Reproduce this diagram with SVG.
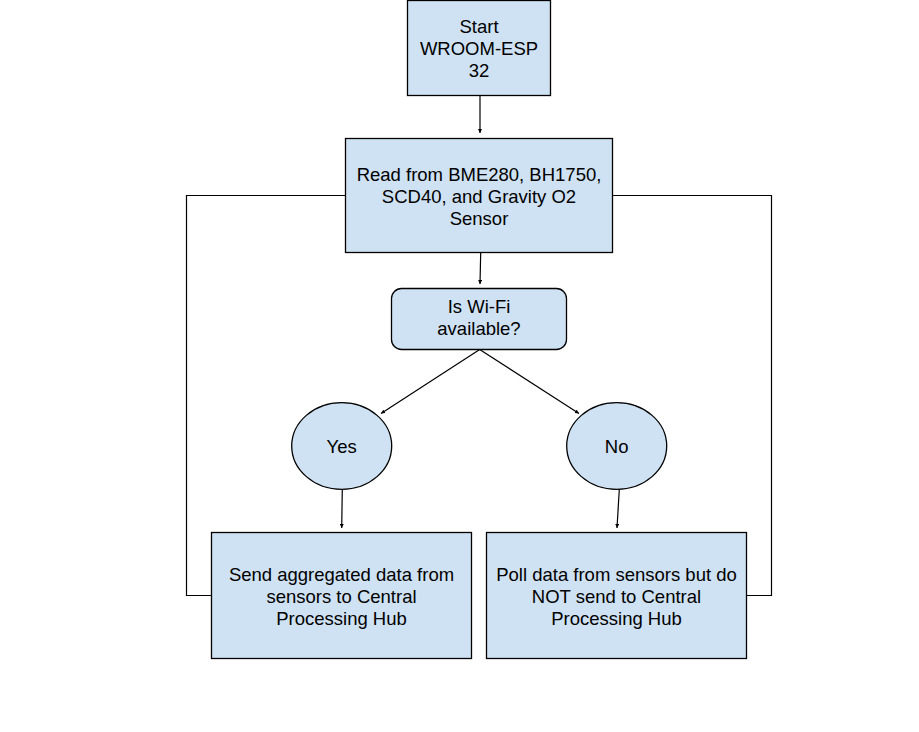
<svg xmlns="http://www.w3.org/2000/svg" width="919" height="732" viewBox="0 0 919 732">
<style>
.n{fill:#cfe2f3;stroke:#000;stroke-width:1.3}
.t{font-family:"Liberation Sans",Arial,sans-serif;font-size:18.5px;fill:#000;text-anchor:middle}
.c{fill:none;stroke:#000;stroke-width:1.2}
</style>
<defs>
<marker id="a" viewBox="0 0 10 10" refX="10" refY="5" markerWidth="4" markerHeight="4" orient="auto" markerUnits="userSpaceOnUse"><path d="M0,0 L10,5 L0,10 z" fill="#000"/></marker>
</defs>
<rect width="919" height="732" fill="#fff"/>
<g id="connectors">
<path class="c" d="M480,95.5 L480,133" marker-end="url(#a)"/>
<path class="c" d="M480.7,252.5 L480,284" marker-end="url(#a)"/>
<path class="c" d="M479.7,349.5 L381,413.5" marker-end="url(#a)"/>
<path class="c" d="M479.7,349.5 L579,413.5" marker-end="url(#a)"/>
<path class="c" d="M342.3,489.3 L341.7,528" marker-end="url(#a)"/>
<path class="c" d="M619.3,489.3 L617,528" marker-end="url(#a)"/>
<path class="c" d="M211.5,595.5 L186.5,595.5 L186.5,195.5 L345.5,195.5"/>
<path class="c" d="M746.5,595.5 L771.5,595.5 L771.5,195.5 L612.5,195.5"/>
</g>
<g id="start">
<rect class="n" x="407.5" y="0.5" width="143" height="95"/>
<text class="t" x="479" y="32.5">Start</text>
<text class="t" x="479" y="54.5">WROOM-ESP</text>
<text class="t" x="479" y="76.5">32</text>
</g>
<g id="read">
<rect class="n" x="345.5" y="138.5" width="267" height="114"/>
<text class="t" x="479" y="180.5">Read from BME280, BH1750,</text>
<text class="t" x="479" y="202.5">SCD40, and Gravity O2</text>
<text class="t" x="479" y="224.5">Sensor</text>
</g>
<g id="wifi">
<rect class="n" x="391.5" y="288.5" width="175" height="61" rx="10" ry="10"/>
<text class="t" x="479" y="312.5">Is Wi-Fi</text>
<text class="t" x="479" y="334.5">available?</text>
</g>
<g id="yes">
<ellipse class="n" cx="341.7" cy="446" rx="50" ry="43.3"/>
<text class="t" x="341.7" y="452.5">Yes</text>
</g>
<g id="no">
<ellipse class="n" cx="616.7" cy="446" rx="50" ry="43.3"/>
<text class="t" x="616.7" y="452.5">No</text>
</g>
<g id="send">
<rect class="n" x="211.5" y="532.5" width="260" height="126"/>
<text class="t" x="341.5" y="580.5">Send aggregated data from</text>
<text class="t" x="341.5" y="602.5">sensors to Central</text>
<text class="t" x="341.5" y="624.5">Processing Hub</text>
</g>
<g id="poll">
<rect class="n" x="486.5" y="532.5" width="260" height="126"/>
<text class="t" x="616.5" y="580.5">Poll data from sensors but do</text>
<text class="t" x="616.5" y="602.5">NOT send to Central</text>
<text class="t" x="616.5" y="624.5">Processing Hub</text>
</g>
</svg>
